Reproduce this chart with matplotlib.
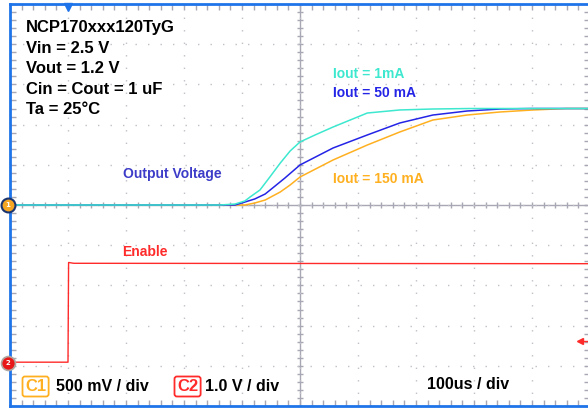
import matplotlib.pyplot as plt
from matplotlib.transforms import IdentityTransform
import numpy as np

# 1. Scope settings
W, H = 588, 408
VDIV_C1 = 0.5      # 500 mV / div
VDIV_C2 = 1.0      # 1.0 V / div
C2_OFFSET = -3.93  # divisions, ground marker of channel 2

# 2. Data (time in us, volts)
t_1ma = [0, 362, 388, 405, 414, 431, 448, 466, 483, 500, 526, 557, 616, 672, 729, 793, 1000]
v_1ma = [0, 0, 0.012, 0.05, 0.1, 0.187, 0.348, 0.522, 0.672, 0.784, 0.871, 0.97, 1.144, 1.182, 1.194, 1.2, 1.2]

t_50ma = [0, 388, 405, 422, 440, 457, 474, 500, 557, 616, 672, 729, 788, 845, 897, 1000]
v_50ma = [0, 0, 0.037, 0.075, 0.137, 0.236, 0.336, 0.498, 0.709, 0.871, 1.02, 1.119, 1.169, 1.194, 1.2, 1.2]

t_150ma = [0, 405, 422, 440, 466, 483, 500, 557, 616, 672, 729, 788, 845, 902, 960, 1000]
v_150ma = [0, 0, 0.025, 0.062, 0.162, 0.249, 0.348, 0.56, 0.746, 0.908, 1.057, 1.119, 1.157, 1.182, 1.2, 1.2]

t_en = [0, 100, 101, 110, 1000]
v_en = [0.02, 0.02, 2.5, 2.48, 2.47]

info_lines = ["NCP170xxx120TyG", "Vin = 2.5 V", "Vout = 1.2 V", "Cin = Cout = 1 uF", "Ta = 25°C"]

# colours
CYAN = '#3de8cf'
BLUE = '#2424e6'
ORANGE = '#ffb020'
RED = '#ff2a2a'
FRAME = '#1f74ea'
GRID = '#c0c0c8'

# 3. Figure and screen area
fig = plt.figure(figsize=(W / 100, H / 100), dpi=100)
ax = fig.add_axes([10 / W, 2 / H, 580 / W, 402 / H])
ax.set_xlim(0, 1000)
ax.set_ylim(-5, 5)

for side in ['left', 'top', 'bottom', 'right']:
    ax.spines[side].set_color(FRAME)
    ax.spines[side].set_linewidth(2.0)

ax.set_xticks(np.arange(0, 1001, 100))
ax.set_yticks(np.arange(-5, 6, 1))
ax.set_xticks(np.arange(0, 1001, 20), minor=True)
ax.set_yticks(np.arange(-5, 5.01, 0.2), minor=True)
ax.tick_params(which='both', direction='in', length=4, width=1, color='#a8a8b4',
               top=True, right=True, labelbottom=False, labelleft=False)
ax.grid(True, which='major', color=GRID, linestyle=(0, (1, 8)), linewidth=1)

# centre cross with small ticks
ax.axhline(0, color='#a8a8b4', lw=1, zorder=1)
ax.axvline(500, color='#a8a8b4', lw=1, zorder=1)
ax.plot(np.arange(0, 1001, 20), np.zeros(51), ls='none', marker='|', ms=5, color='#a8a8b4', zorder=1)
ax.plot(np.full(51, 500), np.arange(-5, 5.01, 0.2), ls='none', marker='_', ms=5, color='#a8a8b4', zorder=1)

# 4. Traces
ax.plot(t_150ma, np.array(v_150ma) / VDIV_C1, color=ORANGE, lw=1.1, zorder=3)
ax.plot(t_50ma, np.array(v_50ma) / VDIV_C1, color=BLUE, lw=1.1, zorder=3)
ax.plot(t_1ma, np.array(v_1ma) / VDIV_C1, color=CYAN, lw=1.1, zorder=3)
ax.plot(t_en, np.array(v_en) / VDIV_C2 + C2_OFFSET, color=RED, lw=1.0, zorder=3)

# channel markers on the left edge
ax.plot([-3.5], [0], marker='o', ms=10, mfc='#f5a623', mec='#1a3470', mew=1.5, clip_on=False, zorder=5)
ax.text(-3.5, 0, '1', fontsize=5, color='white', fontweight='bold', ha='center', va='center', zorder=6, clip_on=False)
ax.plot([-3.5], [C2_OFFSET], marker='o', ms=10, mfc='#e81818', mec='#b0a8a0', mew=1.2, clip_on=False, zorder=5)
ax.text(-3.5, C2_OFFSET, '2', fontsize=5, color='white', fontweight='bold', ha='center', va='center', zorder=6, clip_on=False)

# trigger position (top) and trigger level (right)
ax.plot([100], [4.92], marker='v', ms=6, color=FRAME, clip_on=False, zorder=5)
ax.plot([982, 1000], [-3.38, -3.38], color=RED, lw=1, zorder=4)
ax.plot([982], [-3.38], marker='<', ms=4, color=RED, zorder=4)

# 5. Text
px = IdentityTransform()
def put(x, y_top, s, **kw):
    fig.text(x, H - y_top, s, transform=px, family='Liberation Sans',
             fontweight='bold', va='baseline', **kw)

for i, line in enumerate(info_lines):
    put(26, 32 + i * 20.6, line, fontsize=12, color='black')

put(333, 78, 'Iout = 1mA', fontsize=10, color=CYAN)
put(333, 97, 'Iout = 50 mA', fontsize=10, color=BLUE)
put(333, 183, 'Iout = 150 mA', fontsize=10, color=ORANGE)
put(123, 178, 'Output Voltage', fontsize=10, color='#3c3cc8')
put(122, 256, 'Enable', fontsize=10, color=RED)

put(25, 391, 'C1', fontsize=12, color=ORANGE,
    bbox=dict(boxstyle='round,pad=0.15', fc='white', ec=ORANGE, lw=1.3))
put(56, 391, '500 mV / div', fontsize=11.5, color='black')
put(177, 391, 'C2', fontsize=12, color=RED,
    bbox=dict(boxstyle='round,pad=0.15', fc='white', ec=RED, lw=1.3))
put(205, 391, '1.0 V / div', fontsize=11.5, color='black')
put(427, 389, '100us / div', fontsize=11.5, color='black')

fig.savefig('out.png', dpi=100)
